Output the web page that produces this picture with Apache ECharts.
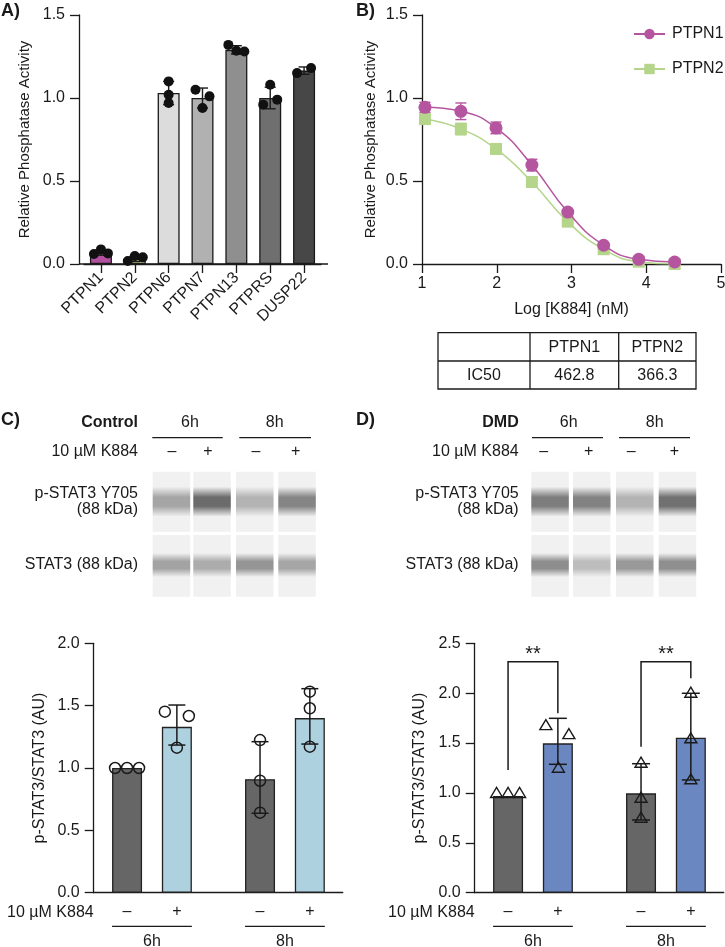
<!DOCTYPE html>
<html lang="en">
<head>
<meta charset="utf-8">
<title>K884 phosphatase panels</title>
</head>
<body style="margin: 0; background: #fff">
<div id="container" style="width: 725px; height: 947px"></div>
<script src="https://cdn.jsdelivr.net/npm/echarts@6/dist/echarts.min.js"></script>
<script>
var FONT = "'Liberation Sans', Arial, Helvetica, sans-serif";
var INK = '#1a1a1a';

// ---- A) phosphatase panel ----
var phosphatases = ['PTPN1', 'PTPN2', 'PTPN6', 'PTPN7', 'PTPN13', 'PTPRS', 'DUSP22'];
var activityMean = [0.068, 0.03, 1.03, 1.0, 1.29, 1.0, 1.165];
var activitySD = [0.015, 0.015, 0.07, 0.06, 0.025, 0.065, 0.022];
var activityPoints = [[0.06, 0.088, 0.064], [0.018, 0.048, 0.04], [1.10, 1.02, 0.97], [1.05, 1.01, 0.94],
  [1.32, 1.285, 1.28], [1.08, 0.96, 0.99], [1.15, 1.18]];
var activityColors = ['#b3519e', '#c6dc96', '#dcdcdc', '#b1b1b1', '#8f8f8f', '#6f6f6f', '#474747'];
var activityJitter = [[-7, 0, 7], [-7, 0, 8], [0, 0, 0], [-7, 7, 0], [-8, 0, 8], [0, -7, 7], [-7, 7]];

// ---- B) dose response ----
var logK884 = [1.04, 1.52, 1.99, 2.47, 2.95, 3.43, 3.90, 4.38];
var ptpn1 = [0.944, 0.92, 0.82, 0.596, 0.313, 0.113, 0.028, 0.012];
var ptpn1Err = [0.03, 0.05, 0.035, 0.035, 0.012, 0.01, 0.008, 0.006];
var ptpn2 = [0.873, 0.813, 0.693, 0.494, 0.255, 0.089, 0.014, 0.0];
var ptpn2Err = [0.018, 0.035, 0.012, 0.012, 0.01, 0.008, 0.005, 0.004];
var curveColors = ['#b5559f', '#b4d58a'];
var ic50Header = ['', 'PTPN1', 'PTPN2'];
var ic50Row = ['IC50', '462.8', '366.3'];

// ---- C/D) blots and quantification ----
var treatmentLabel = '10 µM K884';
var signs = ['–', '+', '–', '+'];
var times = ['6h', '8h'];
var blotLabels = ['p-STAT3 Y705', '(88 kDa)', 'STAT3 (88 kDa)'];
var ctrlPstatGray = [165, 107, 179, 133];
var ctrlStatGray = [163, 172, 149, 166];
var dmdPstatGray = [125, 130, 179, 113];
var dmdStatGray = [142, 189, 153, 143];

var ctrlMean = [1.0, 1.33, 0.91, 1.40];
var ctrlLow = [1.0, 1.184, 0.637, 1.192];
var ctrlHigh = [1.0, 1.505, 1.211, 1.636];
var ctrlPoints = [[1, 1, 1], [1.452, 1.417, 1.163], [1.224, 0.898, 0.642], [1.612, 1.479, 1.171]];
var dmdMean = [0.97, 1.497, 0.996, 1.554];
var dmdLow = [0.97, 1.287, 0.729, 1.13];
var dmdHigh = [0.97, 1.748, 1.293, 1.999];
var dmdPoints = [[1, 1, 1], [1.68, 1.59, 1.253], [1.303, 0.952, 0.752], [2.005, 1.548, 1.137]];
// bracket: [left bar, right bar, left foot, top, right foot]
var dmdBrackets = [[0, 1, 1.23, 2.315, 1.80], [2, 3, 1.464, 2.315, 2.15]];
var dmdStars = ['**', '**'];

// layout
var barPos = [0.67, 1.67, 3.34, 4.34];
var ctrlJitter = [[-12, 0, 12], [-12, 12, 0], [0, 0, 0], [0, 0, 0]];
var dmdJitter = [[-11.5, 0, 11.5], [-12, 11, 0.5], [0, 0, 0], [0, 0, 0]];

var dom = document.getElementById('container');
var myChart = echarts.init(dom, null, { renderer: 'canvas' });

function axisStyle(extra) {
  var a = {
    axisLine: { show: true, lineStyle: { color: INK, width: 1.3 } },
    axisTick: { show: true, length: 9, lineStyle: { color: INK, width: 1.3 } },
    axisLabel: { fontSize: 16, color: INK, fontFamily: FONT },
    splitLine: { show: false },
    nameTextStyle: { fontSize: 16, color: INK, fontFamily: FONT }
  };
  for (var k in extra) {
    if (typeof extra[k] === 'object' && a[k] && !Array.isArray(extra[k])) {
      a[k] = Object.assign({}, a[k], extra[k]);
    } else {
      a[k] = extra[k];
    }
  }
  return a;
}
function oneDecimal(v) { return v.toFixed(1); }

function errorBar(cap, color, width) {
  return function (params, api) {
    var lo = api.coord([api.value(0), api.value(1)]);
    var hi = api.coord([api.value(0), api.value(2)]);
    var cx = lo[0], h = cap / 2;
    var st = { stroke: color, lineWidth: width };
    return { type: 'group', children: [
      { type: 'line', shape: { x1: cx, y1: lo[1], x2: cx, y2: hi[1] }, style: st },
      { type: 'line', shape: { x1: cx - h, y1: lo[1], x2: cx + h, y2: lo[1] }, style: st },
      { type: 'line', shape: { x1: cx - h, y1: hi[1], x2: cx + h, y2: hi[1] }, style: st }
    ] };
  };
}
function dots(kind, size, fill) {
  return function (params, api) {
    var p = api.coord([api.value(0), api.value(1)]);
    var cx = p[0] + api.value(2), cy = p[1];
    if (kind === 'triangle') {
      return { type: 'polygon', shape: { points: [[cx, cy - 5.5], [cx - 6, cy + 4.5], [cx + 6, cy + 4.5]] },
        style: { fill: 'none', stroke: INK, lineWidth: 1.4 } };
    }
    return { type: 'circle', shape: { cx: cx, cy: cy, r: size },
      style: fill ? { fill: fill } : { fill: 'none', stroke: INK, lineWidth: 1.5 } };
  };
}
function pointData(pos, pts, jit) {
  var out = [];
  pts.forEach(function (arr, i) {
    arr.forEach(function (v, j) { out.push([pos[i], v, jit[i][j]]); });
  });
  return out;
}
function errData(pos, low, high) {
  var out = [];
  low.forEach(function (l, i) { if (high[i] > l) out.push([pos[i], l, high[i]]); });
  return out;
}

var option = {
  backgroundColor: '#fff',
  animation: false,
  textStyle: { fontFamily: FONT, color: INK },
  legend: {
    data: ['PTPN1', 'PTPN2'], orient: 'vertical', left: 633, top: 26, padding: 0,
    itemWidth: 31, itemHeight: 13, itemGap: 19,
    textStyle: { fontSize: 16, color: INK, fontFamily: FONT, padding: [0, 0, 0, 2] }
  },
  grid: [
    { left: 84, top: 15, width: 237, height: 249, outerBoundsMode: 'none' },
    { left: 422, top: 15, width: 299, height: 249, outerBoundsMode: 'none' },
    { left: 93.7, top: 643.3, width: 249, height: 249.4, outerBoundsMode: 'none' },
    { left: 474.7, top: 643.3, width: 249, height: 249.4, outerBoundsMode: 'none' }
  ],
  xAxis: [
    axisStyle({ gridIndex: 0, type: 'category', data: phosphatases,
      axisTick: { alignWithLabel: true, length: 9 },
      axisLabel: { rotate: 45, margin: 11, fontSize: 16 } }),
    axisStyle({ gridIndex: 1, type: 'value', min: 1, max: 5, interval: 1,
      name: 'Log [K884] (nM)', nameLocation: 'middle', nameGap: 38,
      axisLabel: { margin: 12 } }),
    axisStyle({ gridIndex: 2, type: 'value', min: 0, max: 5,
      axisTick: { show: false }, axisLabel: { show: false } }),
    axisStyle({ gridIndex: 3, type: 'value', min: 0, max: 5,
      axisTick: { show: false }, axisLabel: { show: false } })
  ],
  yAxis: [
    axisStyle({ gridIndex: 0, type: 'value', min: 0, max: 1.5, interval: 0.5, offset: 5,
      name: 'Relative Phosphatase Activity', nameLocation: 'middle', nameGap: 47,
      nameTextStyle: { fontSize: 15 }, axisLabel: { margin: 14, formatter: oneDecimal } }),
    axisStyle({ gridIndex: 1, type: 'value', min: 0, max: 1.5, interval: 0.5,
      name: 'Relative Phosphatase Activity', nameLocation: 'middle', nameGap: 44,
      nameTextStyle: { fontSize: 15 }, axisLabel: { margin: 14, formatter: oneDecimal } }),
    axisStyle({ gridIndex: 2, type: 'value', min: 0, max: 2, interval: 0.5,
      name: 'p-STAT3/STAT3 (AU)', nameLocation: 'middle', nameGap: 46,
      axisLabel: { margin: 14, formatter: oneDecimal } }),
    axisStyle({ gridIndex: 3, type: 'value', min: 0, max: 2.5, interval: 0.5,
      name: 'p-STAT3/STAT3 (AU)', nameLocation: 'middle', nameGap: 47,
      axisLabel: { margin: 14, formatter: oneDecimal } })
  ],
  series: [
    // A
    { type: 'bar', xAxisIndex: 0, yAxisIndex: 0, barWidth: 22, silent: true,
      itemStyle: { borderColor: INK, borderWidth: 1.3 },
      data: activityMean.map(function (v, i) { return { value: v, itemStyle: { color: activityColors[i] } }; }) },
    { type: 'custom', xAxisIndex: 0, yAxisIndex: 0, renderItem: errorBar(11, INK, 1.4), z: 3,
      data: activityMean.map(function (m, i) { return [i, m - activitySD[i], m + activitySD[i]]; }) },
    { type: 'custom', xAxisIndex: 0, yAxisIndex: 0, renderItem: dots('circle', 5, '#111'), z: 4,
      data: pointData(phosphatases.map(function (c, i) { return i; }), activityPoints, activityJitter) },
    // B
    { type: 'custom', xAxisIndex: 1, yAxisIndex: 1, renderItem: errorBar(11, curveColors[1], 1.4), z: 3,
      data: errData(logK884, ptpn2.map(function (v, i) { return v - ptpn2Err[i]; }),
        ptpn2.map(function (v, i) { return v + ptpn2Err[i]; })) },
    { type: 'line', name: 'PTPN2', xAxisIndex: 1, yAxisIndex: 1, smooth: 0.5,
      symbol: 'rect', symbolSize: 12, z: 4,
      lineStyle: { color: curveColors[1], width: 1.5 }, itemStyle: { color: curveColors[1] },
      data: logK884.map(function (x, i) { return [x, ptpn2[i]]; }) },
    { type: 'custom', xAxisIndex: 1, yAxisIndex: 1, renderItem: errorBar(11, curveColors[0], 1.4), z: 5,
      data: errData(logK884, ptpn1.map(function (v, i) { return v - ptpn1Err[i]; }),
        ptpn1.map(function (v, i) { return v + ptpn1Err[i]; })) },
    { type: 'line', name: 'PTPN1', xAxisIndex: 1, yAxisIndex: 1, smooth: 0.5,
      symbol: 'circle', symbolSize: 13, z: 6,
      lineStyle: { color: curveColors[0], width: 1.5 }, itemStyle: { color: curveColors[0] },
      data: logK884.map(function (x, i) { return [x, ptpn1[i]]; }) },
    // C
    { type: 'bar', xAxisIndex: 2, yAxisIndex: 2, barWidth: 30, silent: true,
      itemStyle: { borderColor: '#222', borderWidth: 1.3 },
      data: ctrlMean.map(function (v, i) {
        return { value: [barPos[i], v], itemStyle: { color: i % 2 ? '#aed1df' : '#666666' } };
      }) },
    { type: 'custom', xAxisIndex: 2, yAxisIndex: 2, renderItem: errorBar(17, INK, 1.5), z: 3,
      data: errData(barPos, ctrlLow, ctrlHigh) },
    { type: 'custom', xAxisIndex: 2, yAxisIndex: 2, renderItem: dots('circle', 5.5), z: 4,
      data: pointData(barPos, ctrlPoints, ctrlJitter) },
    // D
    { type: 'bar', xAxisIndex: 3, yAxisIndex: 3, barWidth: 30, silent: true,
      itemStyle: { borderColor: '#222', borderWidth: 1.3 },
      data: dmdMean.map(function (v, i) {
        return { value: [barPos[i], v], itemStyle: { color: i % 2 ? '#6b87c1' : '#666666' } };
      }) },
    { type: 'custom', xAxisIndex: 3, yAxisIndex: 3, renderItem: errorBar(18, INK, 1.5), z: 3,
      data: errData(barPos, dmdLow, dmdHigh) },
    { type: 'custom', xAxisIndex: 3, yAxisIndex: 3, renderItem: dots('triangle'), z: 4,
      data: pointData(barPos, dmdPoints, dmdJitter) },
    { type: 'custom', xAxisIndex: 3, yAxisIndex: 3, clip: false, z: 4,
      data: dmdBrackets.map(function (b) { return [barPos[b[0]], barPos[b[1]], b[2], b[3], b[4]]; }),
      renderItem: function (params, api) {
        var a = api.coord([api.value(0), api.value(2)]);
        var t1 = api.coord([api.value(0), api.value(3)]);
        var t2 = api.coord([api.value(1), api.value(3)]);
        var b = api.coord([api.value(1), api.value(4)]);
        return { type: 'group', children: [
          { type: 'polyline', shape: { points: [a, t1, t2, b] }, style: { stroke: INK, lineWidth: 1.5, fill: null } },
          { type: 'text', x: (t1[0] + t2[0]) / 2, y: t1[1] - 7,
            style: { text: dmdStars[params.dataIndex], fontSize: 20, fontFamily: FONT, fill: INK,
              align: 'center', verticalAlign: 'middle' } }
        ] };
      } }
  ]
};

myChart.setOption(option);

// ---- annotations: panel letters, table, blots, group labels ----
var g = [];
function txt(x, y, s, size, align, bold) {
  g.push({ type: 'text', x: x, y: y, silent: true,
    style: { text: s, fontSize: size || 16, fontFamily: FONT, fontWeight: bold ? 'bold' : 'normal',
      fill: INK, align: align || 'center', verticalAlign: 'middle' } });
}
function ln(x1, y1, x2, y2, w) {
  g.push({ type: 'line', silent: true, shape: { x1: x1, y1: y1, x2: x2, y2: y2 },
    style: { stroke: INK, lineWidth: w || 1.3 } });
}

txt(1, 11, 'A)', 18, 'left', true);
txt(356, 11, 'B)', 18, 'left', true);
txt(1, 420, 'C)', 18, 'left', true);
txt(356, 420, 'D)', 18, 'left', true);

// A axis line spans past the bar band
ln(79, 264, 328, 264);

// IC50 table
var tX = [438, 530, 618.7, 696], tY = [332.7, 361, 389];
g.push({ type: 'rect', silent: true, shape: { x: tX[0], y: tY[0], width: tX[3] - tX[0], height: tY[2] - tY[0] },
  style: { fill: 'none', stroke: INK, lineWidth: 1.3 } });
ln(tX[0], tY[1], tX[3], tY[1]);
ln(tX[1], tY[0], tX[1], tY[2]);
ln(tX[2], tY[0], tX[2], tY[2]);
[ic50Header, ic50Row].forEach(function (row, r) {
  row.forEach(function (s, c) { txt((tX[c] + tX[c + 1]) / 2, (tY[r] + tY[r + 1]) / 2 + 0.5, s, 16); });
});

// blots
function blot(cfg) {
  txt(cfg.labelX, 422.7, cfg.title, 16, 'right', true);
  txt(cfg.labelX, 451.7, treatmentLabel, 16, 'right');
  times.forEach(function (t, i) {
    txt(cfg.timeX[i], 422.7, t, 16);
    ln(cfg.timeLine[i][0], 437.7, cfg.timeLine[i][1], 437.7);
  });
  signs.forEach(function (s, i) { txt(cfg.signX[i], 451.7, s, 16); });
  txt(cfg.labelX, 493.3, blotLabels[0], 16, 'right');
  txt(cfg.labelX, 510, blotLabels[1], 16, 'right');
  txt(cfg.labelX, 564.3, blotLabels[2], 16, 'right');
  [[471.7, 60, 501.7, 30, cfg.pGray], [535, 61.7, 565, 24, cfg.sGray]].forEach(function (row) {
    cfg.laneX.forEach(function (x, i) {
      g.push({ type: 'rect', silent: true, shape: { x: x, y: row[0], width: 37.5, height: row[1] },
        style: { fill: '#f1f1f1' } });
      var v = row[4][i];
      var c0 = 'rgba(' + v + ',' + v + ',' + v + ',0)', c1 = 'rgb(' + v + ',' + v + ',' + v + ')';
      g.push({ type: 'rect', silent: true, shape: { x: x, y: row[2] - row[3] / 2, width: 37.5, height: row[3] },
        style: { fill: new echarts.graphic.LinearGradient(0, 0, 0, 1, [
          { offset: 0, color: c0 }, { offset: 0.35, color: c1 }, { offset: 0.65, color: c1 }, { offset: 1, color: c0 }]) } });
    });
  });
}
blot({ title: 'Control', labelX: 138, timeX: [190, 274.7], timeLine: [[152.3, 222.7], [239.3, 311]],
  signX: [172, 208, 256, 295.7], laneX: [152.7, 193.3, 236, 278.3], pGray: ctrlPstatGray, sGray: ctrlStatGray });
blot({ title: 'DMD', labelX: 518.7, timeX: [568.7, 654.7], timeLine: [[532, 603], [619, 690]],
  signX: [543.7, 588.7, 631.3, 674.3], laneX: [531.3, 573, 616, 658.7], pGray: dmdPstatGray, sGray: dmdStatGray });

// treatment labels under the quantification axes
[2, 3].forEach(function (ax) {
  var px = barPos.map(function (p) { return myChart.convertToPixel({ xAxisIndex: ax }, p); });
  var left = myChart.convertToPixel({ xAxisIndex: ax }, 0);
  txt(left, 912.7, treatmentLabel, 16, 'right');
  signs.forEach(function (s, i) { txt(px[i], 912, s, 16); });
  times.forEach(function (t, i) {
    ln(px[2 * i] - 15, 926.3, px[2 * i + 1] + 15, 926.3);
    txt((px[2 * i] + px[2 * i + 1]) / 2, 941.5, t, 16);
  });
});

myChart.setOption({ graphic: g });
</script>
</body>
</html>
